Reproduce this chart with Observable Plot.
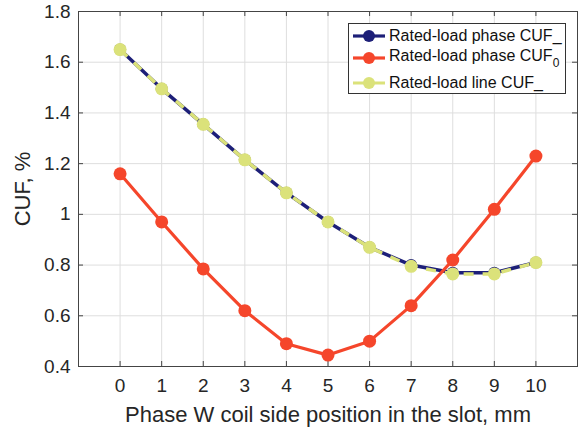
<!DOCTYPE html>
<html><head><meta charset="utf-8">
<script src="https://cdn.jsdelivr.net/npm/d3@7"></script>
<script src="https://cdn.jsdelivr.net/npm/@observablehq/plot@0.6"></script>
<style>
body{margin:0;background:#fff;font-family:"Liberation Sans",Arial,sans-serif;}
#wrap{position:relative;width:581px;height:427px;}
#legend{position:absolute;left:348px;top:23px;width:216px;height:69px;border:1px solid #333;background:#fff;font-size:16px;color:#111;}
.row{position:absolute;left:0;height:20px;display:flex;align-items:center;white-space:nowrap;}
.row svg{margin-left:3px;margin-right:3px;}
</style></head>
<body><div id="wrap"><div id="legend"></div></div>
<script>
const positions = [0,1,2,3,4,5,6,7,8,9,10];
const phaseNeg  = [1.65,1.495,1.355,1.215,1.085,0.97,0.87,0.80,0.77,0.77,0.81];
const phaseZero = [1.16,0.97,0.785,0.62,0.49,0.445,0.50,0.64,0.82,1.02,1.23];
const lineNeg   = [1.65,1.495,1.355,1.215,1.085,0.97,0.87,0.795,0.765,0.765,0.81];
const xTicks = [0,1,2,3,4,5,6,7,8,9,10];
const yTicks = [0.4,0.6,0.8,1.0,1.2,1.4,1.6,1.8];
const seriesNames = ["Rated-load phase CUF_","Rated-load phase CUF","Rated-load line CUF_"];
const colors = ["#1d1f78","#f5462b","#dbe27a"];

const toRows = vals => positions.map((x,i)=>({x, y: vals[i]}));
const dNeg = toRows(phaseNeg), dZero = toRows(phaseZero), dLine = toRows(lineNeg);
const fmt = d => String(+d.toFixed(1));
const W = 581, H = 427, mL = 78, mR = 4, mT = 11, mB = 61;
const inR = W - mL - mR - 5, inB = H - mT - mB - 5;

const chart = Plot.plot({
  width: W, height: H,
  marginLeft: mL, marginRight: mR, marginTop: mT, marginBottom: mB,
  style: {fontFamily: '"Liberation Sans", Arial, sans-serif', color: "#262626", background: "#fff"},
  x: {domain: [-1, 11]},
  y: {domain: [0.4, 1.8]},
  marks: [
    Plot.gridX(xTicks, {stroke: "#dedede", strokeOpacity: 1}),
    Plot.gridY(yTicks, {stroke: "#dedede", strokeOpacity: 1}),
    Plot.axisX(xTicks, {tickSize: 0, tickPadding: 12, fontSize: 19, label: "Phase W coil side position in the slot, mm", labelAnchor: "center", labelArrow: "none", labelOffset: 55, tickFormat: fmt}),
    Plot.axisY(yTicks, {tickSize: 0, tickPadding: 8, fontSize: 19, label: "CUF, %", labelAnchor: "center", labelArrow: "none", labelOffset: 64, tickFormat: fmt}),
    Plot.tickY(yTicks, {y: d=>d, insetRight: inR, stroke: "#444"}),
    Plot.tickY(yTicks, {y: d=>d, insetLeft: inR, stroke: "#444"}),
    Plot.tickX(xTicks, {x: d=>d, insetTop: inB, stroke: "#444"}),
    Plot.tickX(xTicks, {x: d=>d, insetBottom: inB, stroke: "#444"}),
    Plot.frame({stroke: "#444"}),
    Plot.line(dNeg, {x: "x", y: "y", stroke: colors[0], strokeWidth: 3.5}),
    Plot.dot(dNeg, {x: "x", y: "y", r: 6, fill: colors[0]}),
    Plot.line(dZero, {x: "x", y: "y", stroke: colors[1], strokeWidth: 3.2}),
    Plot.dot(dZero, {x: "x", y: "y", r: 6.5, fill: colors[1]}),
    Plot.line(dLine, {x: "x", y: "y", stroke: colors[2], strokeWidth: 3.5, strokeDasharray: "10,9", className: "dashline"}),
    Plot.dot(dLine, {x: "x", y: "y", r: 6.5, fill: colors[2]})
  ]
});
chart.querySelectorAll('[aria-label="x-axis label"] text, [aria-label="y-axis label"] text').forEach(t=>t.setAttribute("font-size", 22));
chart.querySelectorAll('.dashline path, path.dashline').forEach(p=>{p.setAttribute("stroke-dasharray","10,9"); p.setAttribute("stroke-linecap","butt");});
const wrap = document.getElementById("wrap");
wrap.insertBefore(chart, wrap.firstChild);

const legend = document.getElementById("legend");
const tops = [2, 24, 49];
seriesNames.forEach((name,i)=>{
  const row = document.createElement("div");
  row.className = "row"; row.style.top = tops[i] + "px";
  const dash = i===2 ? 'stroke-dasharray="13,6"' : '';
  row.innerHTML = `<svg width="34" height="20"><line x1="1" y1="10" x2="33" y2="10" stroke="${colors[i]}" stroke-width="3.2" ${dash}/><circle cx="17" cy="10" r="6" fill="${colors[i]}"/></svg><span>${name}${i===1?'<sub style="font-size:12px;vertical-align:-6px">0</sub>':''}</span>`;
  legend.appendChild(row);
});
</script></body></html>
